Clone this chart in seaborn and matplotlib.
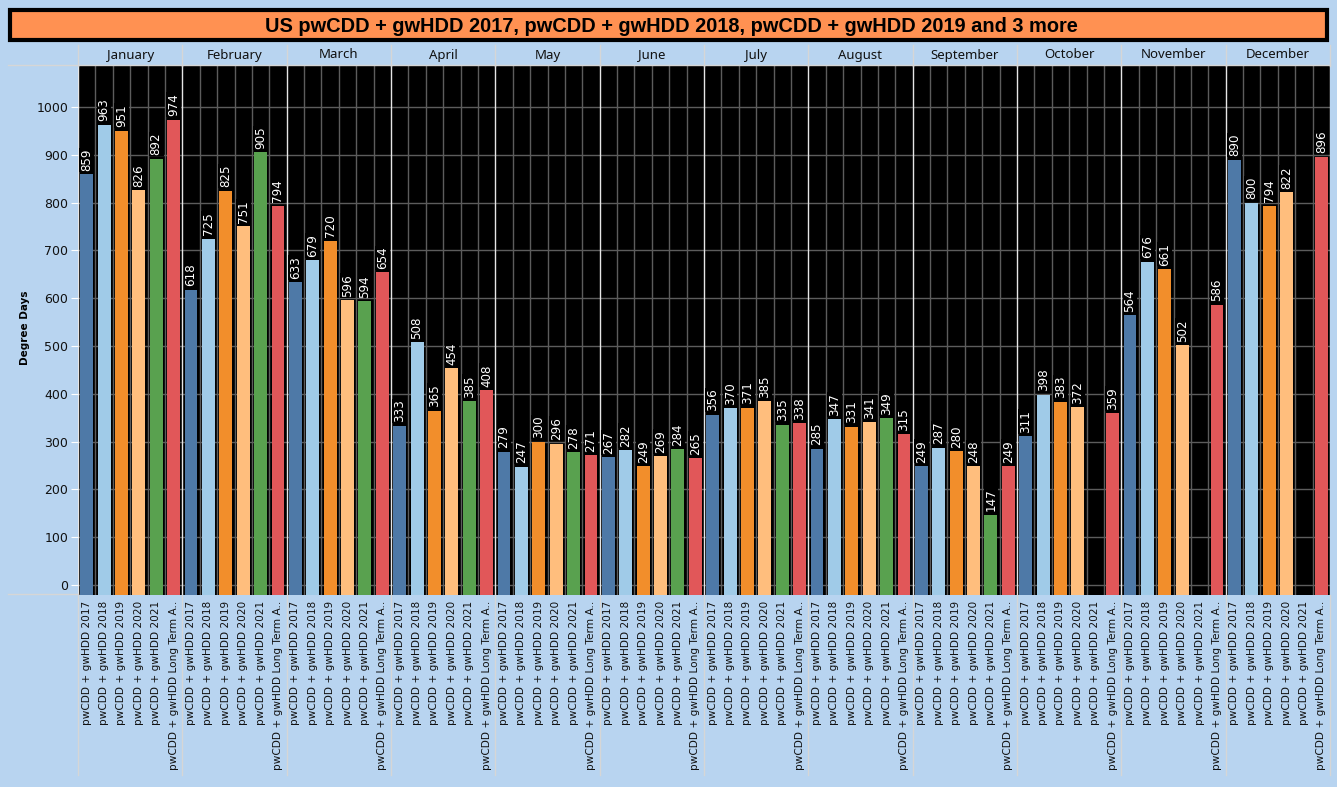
import matplotlib.pyplot as plt
import matplotlib.lines as mlines
import matplotlib.patches as mpatches
import pandas as pd
import seaborn as sns
import numpy as np

months = ['January', 'February', 'March', 'April', 'May', 'June', 'July',
          'August', 'September', 'October', 'November', 'December']
series = ['pwCDD + gwHDD 2017', 'pwCDD + gwHDD 2018', 'pwCDD + gwHDD 2019',
          'pwCDD + gwHDD 2020', 'pwCDD + gwHDD 2021', 'pwCDD + gwHDD Long Term A..']

# degree days per month, one list per series (None = no data yet)
dd_2017 = [859, 618, 633, 333, 279, 267, 356, 285, 249, 311, 564, 890]
dd_2018 = [963, 725, 679, 508, 247, 282, 370, 347, 287, 398, 676, 800]
dd_2019 = [951, 825, 720, 365, 300, 249, 371, 331, 280, 383, 661, 794]
dd_2020 = [826, 751, 596, 454, 296, 269, 385, 341, 248, 372, 502, 822]
dd_2021 = [892, 905, 594, 385, 278, 284, 335, 349, 147, None, None, None]
dd_lta = [974, 794, 654, 408, 271, 265, 338, 315, 249, 359, 586, 896]

colors = ['#4E79A7', '#A0CBE8', '#F28E2B', '#FFBE7D', '#59A14F', '#E15759']
bg = '#B8D4F0'

all_series = [dd_2017, dd_2018, dd_2019, dd_2020, dd_2021, dd_lta]
rows = []
for m_i, m in enumerate(months):
    for s_i, s in enumerate(series):
        v = all_series[s_i][m_i]
        rows.append({'Month': m, 'Series': s, 'slot': m + '|' + s,
                     'Value': np.nan if v is None else v})
df = pd.DataFrame(rows)
order = list(df['slot'])

plt.rcParams['font.family'] = ['DejaVu Sans']

W, H = 1337, 787
fig = plt.figure(figsize=(W / 100, H / 100), dpi=100, facecolor=bg)
ax = fig.add_axes([78 / W, 1 - 595 / H, (1330 - 78) / W, (595 - 66) / H])
ax.set_facecolor('black')

ymin, ymax = -21, 1086
sns.barplot(data=df, x='slot', y='Value', hue='Series', order=order,
            hue_order=series, palette=colors, dodge=False, width=0.74,
            saturation=1, legend=False, ax=ax, zorder=2)

# Tableau draws the bars down to the bottom of the pane
for p in ax.patches:
    h = p.get_height()
    if np.isfinite(h):
        p.set_y(ymin)
        p.set_height(h - ymin)

ax.set_xlim(-0.5, len(order) - 0.5)
ax.set_ylim(ymin, ymax)

# grid
for yv in range(0, 1001, 100):
    ax.axhline(yv, color='#5c5c5c', lw=1, zorder=0.5)
for i in range(len(order) + 1):
    x = i - 0.5
    if i % 6 == 0:
        ax.axvline(x, color='#e6e6e6', lw=1, zorder=0.6)
    else:
        ax.axvline(x, color='#5c5c5c', lw=1, zorder=0.5)

# value labels
for i, v in enumerate(df['Value']):
    if np.isfinite(v):
        ax.annotate(f'{int(v)}', (i, v), xytext=(0, 2.5), textcoords='offset points',
                    rotation=90, ha='center', va='bottom', color='white',
                    fontsize=8.6, zorder=3,
                    bbox=dict(facecolor='black', edgecolor='none', pad=0.6))

ax.set_xticks(range(len(order)), labels=list(df['Series']), rotation=90,
              fontsize=7.6, color='#111111')
ax.tick_params(axis='x', length=0, pad=4)
ax.set_yticks(range(0, 1001, 100))
ax.tick_params(axis='y', length=5, color='white', labelsize=9,
               labelcolor='#111111', pad=2)
ax.set_xlabel('')
ax.set_ylabel('')
for sp in ax.spines.values():
    sp.set_visible(False)

# month header and separators
xt = ax.get_xaxis_transform()
for k, m in enumerate(months):
    ax.text(6 * k + 2.5, (595 - 55) / 529, m, transform=xt, ha='center',
            va='center', fontsize=9.5, color='#111111', family='Noto Sans')
for k in range(13):
    x = 6 * k - 0.5
    ax.plot([x, x], [1.0, (595 - 45) / 529], transform=xt, color='#d6d6d6',
            lw=1, clip_on=False)
    ax.plot([x, x], [0.0, (595 - 775) / 529], transform=xt, color='#d6d6d6',
            lw=1, clip_on=False)
fig.add_artist(mlines.Line2D([8 / W, 1330 / W], [1 - 65 / H, 1 - 65 / H],
                             color='#d6d6d6', lw=1))
fig.add_artist(mlines.Line2D([8 / W, 78 / W], [1 - 594 / H, 1 - 594 / H],
                             color='#d6d6d6', lw=1))

# title box
fig.add_artist(mpatches.Rectangle((10 / W, 1 - 40 / H), 1317 / W, 30 / H,
                                  facecolor='#FF9152', edgecolor='black', lw=3))
fig.text(671 / W, 1 - 25 / H,
         'US pwCDD + gwHDD 2017, pwCDD + gwHDD 2018, pwCDD + gwHDD 2019 and 3 more',
         ha='center', va='center_baseline', fontsize=14.4, fontweight='bold',
         family='Liberation Sans', color='black')

fig.text(25 / W, 1 - 328 / H, 'Degree Days', rotation=90, ha='center',
         va='center', fontsize=7.5, fontweight='bold', color='black')

fig.savefig('out.png', dpi=100, facecolor=bg)
